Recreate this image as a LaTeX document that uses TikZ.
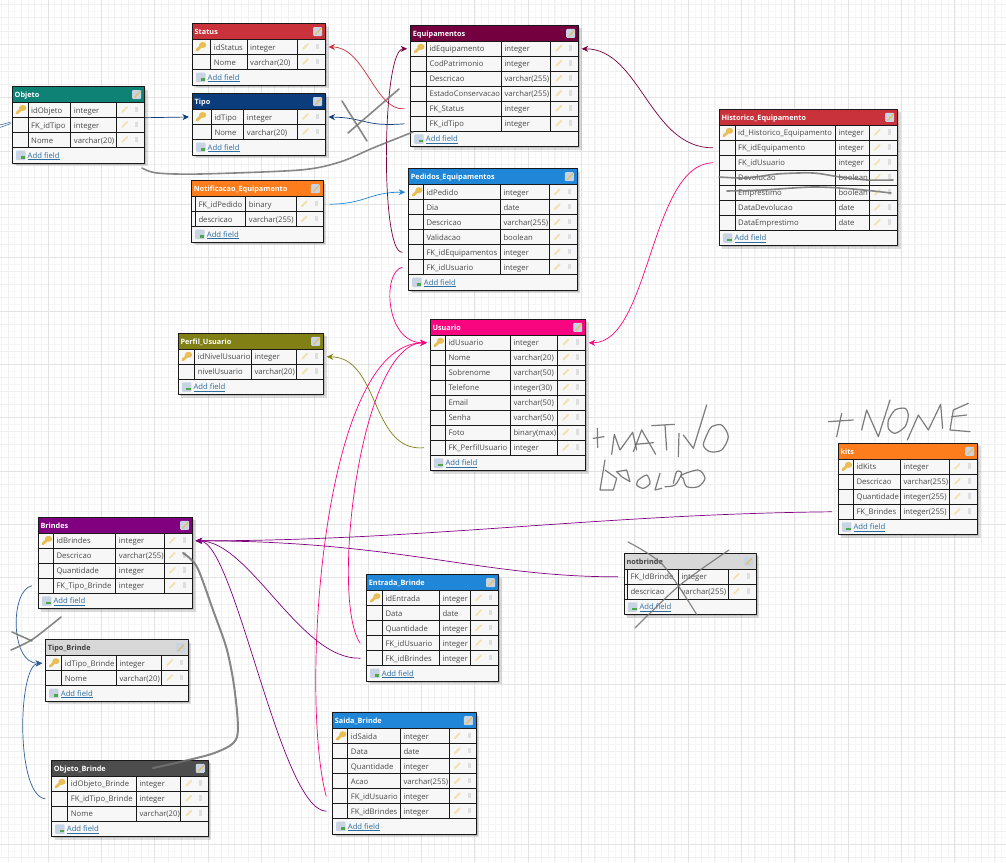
\documentclass[tikz,border=0pt]{standalone}
\usepackage{fontspec}
\setmainfont{Open Sans}
\usetikzlibrary{arrows.meta}
\definecolor{corVermelho}{HTML}{C9323A}
\definecolor{corTeal}{HTML}{0F8276}
\definecolor{corNavy}{HTML}{0B3D7D}
\definecolor{corLaranja}{HTML}{FD7C1C}
\definecolor{corVinho}{HTML}{75003F}
\definecolor{corAzul}{HTML}{2086D8}
\definecolor{corOliva}{HTML}{808014}
\definecolor{corRosa}{HTML}{FA0580}
\definecolor{corRoxo}{HTML}{800080}
\definecolor{corCinza}{HTML}{D8D8D8}
\definecolor{corEscuro}{HTML}{4D4D4D}
\definecolor{corAzulTipo}{HTML}{2F5F9A}
\definecolor{corTexto}{HTML}{4A4A4A}
\definecolor{corLink}{HTML}{2F6EA0}
\definecolor{corLapis}{HTML}{F2E2B0}
\definecolor{corChave}{HTML}{E8BE55}
\definecolor{corIcone}{HTML}{C8D4E4}
\tikzset{
	gridfina/.style={draw=black!3,line width=.4pt},
	gridmenor/.style={draw=black!6,line width=.4pt},
	gridmaior/.style={draw=black!11,line width=.6pt},
	sombra/.style={fill=black,opacity=.13},
	borda/.style={draw=black!90,line width=.9pt},
	celula/.style={anchor=west,inner sep=0pt,text=corTexto,font=\fontsize{7.7}{9}\selectfont,text height=6.2pt,text depth=1.8pt},
	titulo/.style={anchor=west,inner sep=0pt,font=\fontsize{7.3}{9}\selectfont\bfseries,text height=6.2pt,text depth=1.8pt},
	link/.style={celula,text=corLink},
	lapis/.style={draw=corLapis,line width=1.8pt,line cap=round},
	lixo/.style={fill=black!13},
	liga/.style={line width=.7pt,->},
	risco/.style={draw=black!55,line width=1.6pt,opacity=.85,line cap=round,line join=round},
	rabisco/.style={draw=black!60,line width=1.2pt,opacity=.85,line cap=round,line join=round}
}
\newcommand{\tabela}[7][white]{
	\foreach \nomeCampo/\tipoCampo [count=\i] in {#7}{\xdef\nLinhas{\i}}
	\foreach \colA/\colB/\colC in {#6}{
		\pgfmathsetmacro\yHead{#4+16}
		\pgfmathsetmacro\yRows{\yHead+15*\nLinhas}
		\pgfmathsetmacro\yFim{\yRows+15.5}
		\fill[sombra] (#3+1.5,#4+1.5) rectangle (#5+1.5,\yFim+1.5);
		\fill[sombra] (#3+3,#4+3) rectangle (#5+3,\yFim+3);
		\fill[black!3] (#3,\yHead) rectangle (#5,\yFim);
		\fill[#2] (#3,#4) rectangle (#5,\yHead);
		\node[titulo,text=#1] (#3-#4-titulo) at (#3+2,#4+8.8) {\tituloTabela};
		\fill[rounded corners=1pt,corIcone] (#5-12.5,#4+3.5) rectangle (#5-3.5,#4+12.5);
		\draw[corChave,line width=1.2pt] (#5-10,#4+11) -- (#5-4.5,#4+5);
		\foreach \nomeCampo/\tipoCampo [count=\i] in {#7}{
			\pgfmathsetmacro\yMeio{\yHead+(\i-.5)*15}
			\node[celula] (#3-#4-\i-nome) at (\colA+3,\yMeio+.8) {\nomeCampo};
			\node[celula] (#3-#4-\i-tipo) at (\colB+3,\yMeio+.8) {\tipoCampo};
			\draw[lapis] (\colC+5.5,\yMeio+2) -- (\colC+10.5,\yMeio-3);
			\fill[lixo] (\colC+18.5,\yMeio-3.5) rectangle (\colC+21.5,\yMeio+2);
			\draw[borda] (#3,\yHead+\i*15) -- (#5,\yHead+\i*15);
			\coordinate (\tituloTabela-\i-esq) at (#3-6.5,\yMeio);
			\coordinate (\tituloTabela-\i-dir) at (#5+6.5,\yMeio);
			\coordinate (\tituloTabela-\i-pontaEsq) at (#3-3.5,\yMeio);
			\coordinate (\tituloTabela-\i-pontaDir) at (#5+3,\yMeio);
			\coordinate (\tituloTabela-\i-chave) at (#3+8,\yMeio);
		}
		\draw[borda] (\colA,\yHead) -- (\colA,\yRows) (\colB,\yHead) -- (\colB,\yRows) (\colC,\yHead) -- (\colC,\yRows);
		\draw[borda] (#3,\yHead) -- (#5,\yHead);
		\fill[rounded corners=1pt,corIcone] (#3+3.5,\yRows+3) rectangle (#3+13,\yRows+12.5);
		\fill[green!50!black!70] (#3+8,\yRows+8.5) rectangle (#3+12.5,\yRows+11);
		\node[link] (#3-#4-add) at (#3+15,\yRows+8.3) {\underline{Add field}};
		\draw[borda] (#3,#4) rectangle (#5,\yFim);
	}
}
\newcommand{\chave}[1]{
	\draw[corChave,line width=2.8pt,line cap=round] ([shift={(-3.5,3)}]#1-1-chave) -- ([shift={(2,-2)}]#1-1-chave);
	\fill[corChave] ([shift={(2.2,-2)}]#1-1-chave) ellipse (3.6pt and 3pt);
}
\begin{document}
\catcode`\_=12
\begin{tikzpicture}[line cap=round,line join=round,>={Stealth[length=6.5pt,width=6pt]},x=1pt,y=-1pt]
	\useasboundingbox (0,0) rectangle (1006,862);
	\fill[white] (0,0) rectangle (1006,862);
	\foreach \passo/\estilo in {6.667/gridfina,13.333/gridmenor,53.333/gridmaior}{
		\pgfmathtruncatemacro\nPassos{1020/\passo}
		\foreach \k in {0,...,\nPassos}{
			\draw[\estilo] (\k*\passo-5.33,0) -- (\k*\passo-5.33,862);
			\draw[\estilo] (0,\k*\passo-9.03) -- (1006,\k*\passo-9.03);
		}
	}

	\def\tituloTabela{Status}
	\tabela{corVermelho}{192.5}{23.5}{325.5}{210.7/247/297.5}{idStatus/integer,Nome/varchar(20)}
	\def\tituloTabela{Objeto}
	\tabela{corTeal}{12.5}{86.5}{144.5}{28/70.7/116.7}{idObjeto/integer,FK_idTipo/integer,Nome/varchar(20)}
	\def\tituloTabela{Tipo}
	\tabela{corNavy}{192.5}{93.5}{325.5}{211.3/243.7/297.5}{idTipo/integer,Nome/varchar(20)}
	\def\tituloTabela{Notificacao_Equipamento}
	\tabela{corLaranja}{191.7}{180.7}{323.3}{195.3/245.7/296.3}{FK_idPedido/binary,descricao/varchar(255)}
	\def\tituloTabela{Equipamentos}
	\tabela{corVinho}{410.7}{25.3}{578.7}{426.3/501.3/550.7}{idEquipamento/integer,CodPatrimonio/integer,Descricao/varchar(255),EstadoConservacao/varchar(255),FK_Status/integer,FK_idTipo/integer}
	\def\tituloTabela{Pedidos_Equipamentos}
	\tabela{corAzul}{408.7}{168.7}{577.3}{423.3/500.3/549.3}{idPedido/integer,Dia/date,Descricao/varchar(255),Validacao/boolean,FK_idEquipamentos/integer,FK_idUsuario/integer}
	\def\tituloTabela{Historico_Equipamento}
	\tabela{corVermelho}{719.3}{109.3}{897.7}{735/835.3/869.3}{id_Historico_Equipamento/integer,FK_idEquipamento/integer,FK_idUsuario/integer,Devolucao/boolean,Emprestimo/boolean,DataDevolucao/date,DataEmprestimo/date}
	\def\tituloTabela{Perfil_Usuario}
	\tabela{corOliva}{178.3}{333.3}{323.7}{194.7/251.3/296.7}{idNivelUsuario/integer,nivelUsuario/varchar(20)}
	\def\tituloTabela{Usuario}
	\tabela{corRosa}{430.3}{319.3}{585.7}{445.3/510.3/557.7}{idUsuario/integer,Nome/varchar(20),Sobrenome/varchar(50),Telefone/integer(30),Email/varchar(50),Senha/varchar(50),Foto/binary(max),FK_PerfilUsuario/integer}
	\def\tituloTabela{kits}
	\tabela{corLaranja}{838.3}{443.3}{977.7}{853.3/900.3/949.3}{idKits/integer,Descricao/varchar(255),Quantidade/integer(255),FK_Brindes/integer(255)}
	\def\tituloTabela{notbrinde}
	\tabela[black!75]{corCinza}{624.3}{553.3}{756.3}{627.3/678.3/728.3}{FK_IdBrinde/integer,descricao/varchar(255)}
	\def\tituloTabela{Brindes}
	\tabela{corRoxo}{38.3}{517.3}{192.7}{53.3/115.7/164.3}{idBrindes/integer,Descricao/varchar(255),Quantidade/integer,FK_Tipo_Brinde/integer}
	\def\tituloTabela{Tipo_Brinde}
	\tabela[black!75]{corCinza}{45.7}{639.7}{188.3}{61.7/116.3/161.7}{idTipo_Brinde/integer,Nome/varchar(20)}
	\def\tituloTabela{Objeto_Brinde}
	\tabela{corEscuro}{51.7}{760.3}{208.3}{67.7/136.3/180.7}{idObjeto_Brinde/integer,FK_idTipo_Brinde/integer,Nome/varchar(20)}
	\def\tituloTabela{Entrada_Brinde}
	\tabela{corAzul}{366.7}{574.7}{498.7}{382.3/439.3/470.7}{idEntrada/integer,Data/date,Quantidade/integer,FK_idUsuario/integer,FK_idBrindes/integer}
	\def\tituloTabela{Saida_Brinde}
	\tabela{corAzul}{332.7}{712.7}{476.3}{347.7/400.3/449.3}{idSaida/integer,Data/date,Quantidade/integer,Acao/varchar(255),FK_idUsuario/integer,FK_idBrindes/integer}

	\foreach \t in {Status,Objeto,Tipo,Equipamentos,Pedidos_Equipamentos,Historico_Equipamento,Perfil_Usuario,Usuario,kits,Brindes,Tipo_Brinde,Objeto_Brinde,Entrada_Brinde,Saida_Brinde}{\chave{\t}}

	\coordinate (objetoSaida) at (145,117.7);
	\coordinate (foraA) at (0,125);
	\coordinate (foraB) at (0,127.5);
	\coordinate (objetoEntradaA) at (11,122);
	\coordinate (objetoEntradaB) at (11,123.5);

	\draw[liga,corVermelho] (Equipamentos-5-esq) .. controls (375,111) and (365,47) .. (Status-1-pontaDir);
	\draw[liga,corNavy] (Equipamentos-6-esq) .. controls (365,127) and (365,117.7) .. (Tipo-1-pontaDir);
	\draw[liga,corNavy] (objetoSaida) -- (Tipo-1-pontaEsq);
	\draw[corAzulTipo,line width=.5pt] (foraA) -- (objetoEntradaA) (foraB) -- (objetoEntradaB);
	\draw[liga,corAzul] (Notificacao_Equipamento-1-dir) .. controls (365,204) and (370,192) .. (Pedidos_Equipamentos-1-pontaEsq);
	\draw[liga,corVinho] (Pedidos_Equipamentos-5-esq) .. controls (380,254) and (382,49) .. (Equipamentos-1-pontaEsq);
	\draw[liga,corVinho] (Historico_Equipamento-2-esq) .. controls (650,148) and (640,49) .. (Equipamentos-1-pontaDir);
	\draw[liga,corRosa] (Historico_Equipamento-3-esq) .. controls (650,164) and (650,343) .. (Usuario-1-pontaDir);
	\draw[liga,corRosa] (Pedidos_Equipamentos-6-esq) .. controls (382,272) and (385,343) .. (Usuario-1-pontaEsq);
	\draw[liga,corOliva] (Usuario-8-esq) .. controls (370,452) and (380,357) .. (Perfil_Usuario-1-pontaDir);
	\draw[liga,corRosa] (Entrada_Brinde-4-esq) .. controls (330,600) and (360,343) .. (Usuario-1-pontaEsq);
	\draw[liga,corRosa] (Saida_Brinde-5-esq) .. controls (300,700) and (320,343) .. (Usuario-1-pontaEsq);
	\draw[liga,corRoxo] (Entrada_Brinde-5-esq) .. controls (300,660) and (250,541) .. (Brindes-1-pontaDir);
	\draw[liga,corRoxo] (Saida_Brinde-6-esq) .. controls (280,810) and (235,541) .. (Brindes-1-pontaDir);
	\draw[liga,corRoxo] (notbrinde-1-esq) .. controls (480,577) and (400,541) .. (Brindes-1-pontaDir);
	\draw[liga,corRoxo] (kits-4-esq) .. controls (600,514) and (420,541) .. (Brindes-1-pontaDir);
	\draw[liga,corAzulTipo] (Brindes-4-esq) .. controls (10,590) and (10,664) .. (Tipo_Brinde-1-pontaEsq);
	\draw[liga,corAzulTipo] (Objeto_Brinde-2-esq) .. controls (15,795) and (18,664) .. (Tipo_Brinde-1-pontaEsq);

	\draw[risco] (342,101) -- (367,141);
	\draw[risco] (399,89) -- (348,133);
	\draw[risco] plot[smooth] coordinates {(142,168) (157,173) (200,174) (300,170) (340,162) (373,148) (413,132)};
	\draw[risco] plot[smooth] coordinates {(719,177) (747,178) (777,174) (813,173) (840,177) (867,180) (893,180)};
	\draw[risco] plot[smooth] coordinates {(727,191) (763,190) (813,187) (853,189) (891,193)};
	\draw[risco,line width=1.2pt] plot[smooth] coordinates {(628,542) (663,565) (697,615)};
	\draw[risco,line width=1.2pt] plot[smooth] coordinates {(729,550) (680,585) (635,628)};
	\draw[risco] (12,632) -- (32,641);
	\draw[risco] plot[smooth] coordinates {(61,617) (33,639) (11,650)};
	\draw[risco,line width=2pt] plot[smooth] coordinates {(183,553) (197,567) (213,610) (227,650) (235,693) (237,737) (217,752) (180,762) (153,768)};

	\begin{scope}[shift={(585,395)},x=.3333pt,y=-.3333pt]
		\draw[rabisco] (25,130) -- (57,125) (37,100) -- (38,157);
		\draw[rabisco] (80,178) -- (88,118) -- (105,165) -- (143,112) -- (155,165);
		\draw[rabisco] (145,170) -- (170,105) -- (212,178) (150,148) -- (205,143);
		\draw[rabisco] (200,92) -- (268,88) (240,90) -- (245,165);
		\draw[rabisco] (280,185) -- (282,115) (295,120) -- (325,160) -- (365,30);
		\draw[rabisco] plot[smooth] coordinates {(370,110) (380,95) (410,90) (430,125) (410,165) (375,170) (355,150) (370,110)};
		\draw[rabisco] (60,195) -- (45,285) -- (85,285) -- (95,250) -- (60,225);
		\draw[rabisco] (95,230) -- (125,225) -- (135,260) -- (110,245) -- cycle;
		\draw[rabisco] plot[smooth] coordinates {(160,255) (185,240) (195,265) (175,280) (155,270) (160,255)};
		\draw[rabisco] (225,235) -- (210,285) -- (230,280);
		\draw[rabisco] plot[smooth] coordinates {(240,275) (270,270) (290,235) (275,230) (265,265)};
		\draw[rabisco] plot[smooth] coordinates {(295,250) (290,240) (340,225) (360,250) (340,275) (305,275) (295,250)};
	\end{scope}
	\begin{scope}[shift={(820,395)},x=.3333pt,y=-.3333pt]
		\draw[rabisco] (25,80) -- (100,75) (65,55) -- (50,125);
		\draw[rabisco] (125,105) -- (140,45) -- (175,125) -- (210,15);
		\draw[rabisco] plot[smooth] coordinates {(205,75) (225,45) (255,40) (265,60) (255,95) (225,115) (205,100) (205,75)};
		\draw[rabisco] (262,135) -- (295,60) -- (325,105) -- (362,28) -- (368,100);
		\draw[rabisco] (445,25) -- (400,45) -- (390,105) -- (450,110) (395,65) -- (440,60);
	\end{scope}
\end{tikzpicture}
\end{document}
